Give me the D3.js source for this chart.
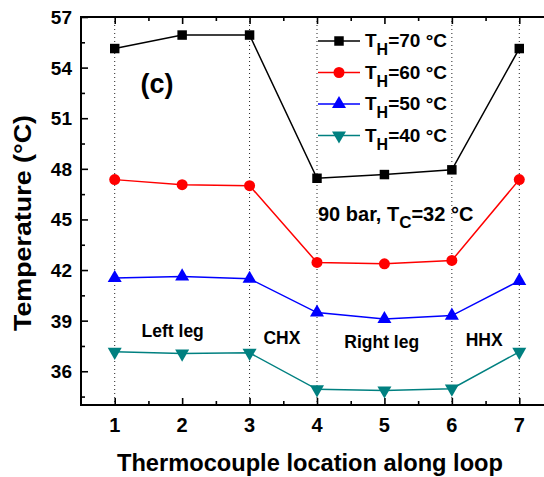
<!DOCTYPE html>
<html>
<head>
<meta charset="utf-8">
<script src="https://cdn.jsdelivr.net/npm/d3@7"></script>
<style>
  html, body { margin: 0; padding: 0; background: #fff; }
  svg { display: block; font-family: "Liberation Sans", Arial, sans-serif; font-weight: bold; }
</style>
</head>
<body>
<svg id="chart" width="544" height="477"></svg>
<script>
// Thermocouple positions around the loop
const locations = [1, 2, 3, 4, 5, 6, 7];
// Measured temperatures (°C) for each heater setting
const th70 = [55.13, 55.93, 55.93, 47.44, 47.66, 47.94, 55.13];
const th60 = [47.36, 47.06, 47.00, 42.45, 42.37, 42.57, 47.36];
const th50 = [41.53, 41.62, 41.48, 39.48, 39.10, 39.30, 41.36];
const th40 = [37.15, 37.05, 37.09, 34.93, 34.86, 34.97, 37.15];
const seriesNames = ["70", "60", "50", "40"];
const yTicks = [36, 39, 42, 45, 48, 51, 54, 57];
const xTicks = [1, 2, 3, 4, 5, 6, 7];
const sectionLines = [1, 3, 4, 6, 7];
const sections = [
  { name: "Left leg", at: 1.86, dy: 0 },
  { name: "CHX", at: 3.48, dy: 7 },
  { name: "Right leg", at: 4.96, dy: 11 },
  { name: "HHX", at: 6.48, dy: 9 }
];

const svg = d3.select("#chart");
const plotL = 81, plotR = 553, plotT = 17, plotB = 405;

const x = d3.scaleLinear().domain([0.5, 7.5]).range([plotL, plotR]);
const y = d3.scaleLinear().domain([34, 57]).range([plotB, plotT]);

const series = [
  { name: seriesNames[0], values: th70, color: "#000000", symbol: d3.symbolSquare, size: 90, rot: 0 },
  { name: seriesNames[1], values: th60, color: "#ff0000", symbol: d3.symbolCircle, size: 95, rot: 0 },
  { name: seriesNames[2], values: th50, color: "#0000ff", symbol: d3.symbolTriangle, size: 85, rot: 0 },
  { name: seriesNames[3], values: th40, color: "#008080", symbol: d3.symbolTriangle, size: 85, rot: 180 }
];

// Dotted section boundaries
svg.append("g").selectAll("line").data(sectionLines).join("line")
  .attr("x1", d => x(d)).attr("x2", d => x(d))
  .attr("y1", plotT).attr("y2", plotB)
  .attr("stroke", "#222").attr("stroke-width", 1)
  .attr("stroke-dasharray", "1,3");

// Axes: major ticks and minor ticks pointing inward
const yMinor = d3.range(34.5, 57, 1.5).filter(v => !yTicks.includes(v));
const xMinor = d3.range(1.5, 7.5, 1);

function tickGroup(axis, pos) {
  svg.append("g").attr("transform", pos)
    .call(axis)
    .call(g => g.select(".domain").remove())
    .call(g => g.selectAll("line").attr("stroke-width", 1.6));
}
tickGroup(d3.axisRight(y).tickValues(yTicks).tickSize(7).tickFormat(""), `translate(${plotL},0)`);
tickGroup(d3.axisRight(y).tickValues(yMinor).tickSize(4).tickFormat(""), `translate(${plotL},0)`);
tickGroup(d3.axisTop(x).tickValues(xTicks).tickSize(7).tickFormat(""), `translate(0,${plotB})`);
tickGroup(d3.axisTop(x).tickValues(xMinor).tickSize(4).tickFormat(""), `translate(0,${plotB})`);
tickGroup(d3.axisBottom(x).tickValues(xTicks).tickSize(7).tickFormat(""), `translate(0,${plotT})`);
tickGroup(d3.axisBottom(x).tickValues(xMinor).tickSize(4).tickFormat(""), `translate(0,${plotT})`);

// Frame lines
svg.append("line").attr("x1", plotL).attr("x2", plotL).attr("y1", plotT - 1).attr("y2", plotB + 1)
  .attr("stroke", "#000").attr("stroke-width", 2);
svg.append("line").attr("x1", plotL - 1).attr("x2", 544).attr("y1", plotB).attr("y2", plotB)
  .attr("stroke", "#000").attr("stroke-width", 2);
svg.append("line").attr("x1", plotL - 1).attr("x2", 544).attr("y1", plotT).attr("y2", plotT)
  .attr("stroke", "#000").attr("stroke-width", 2);

// Tick labels
svg.append("g").selectAll("text").data(yTicks).join("text")
  .attr("x", plotL - 9).attr("y", d => y(d) + 7)
  .attr("text-anchor", "end").attr("font-size", 19).text(d => d);
svg.append("g").selectAll("text").data(xTicks).join("text")
  .attr("x", d => x(d)).attr("y", plotB + 27)
  .attr("text-anchor", "middle").attr("font-size", 20).text(d => d);

// Axis titles
svg.append("text").attr("x", 310).attr("y", 471).attr("text-anchor", "middle")
  .attr("font-size", 23.5).attr("textLength", 386).attr("lengthAdjust", "spacingAndGlyphs")
  .text("Thermocouple location along loop");
svg.append("text").attr("transform", "translate(31,223) rotate(-90)")
  .attr("text-anchor", "middle").attr("font-size", 24)
  .attr("textLength", 216).attr("lengthAdjust", "spacingAndGlyphs")
  .text("Temperature (\u00B0C)");

// Data lines and markers
const line = d3.line().x((d, i) => x(locations[i])).y(d => y(d));
series.forEach(s => {
  svg.append("path").datum(s.values).attr("d", line)
    .attr("fill", "none").attr("stroke", s.color).attr("stroke-width", 1.5);
  svg.append("g").selectAll("path").data(s.values).join("path")
    .attr("d", d3.symbol().type(s.symbol).size(s.size))
    .attr("transform", (d, i) => `translate(${x(locations[i])},${y(d)}) rotate(${s.rot})`)
    .attr("fill", s.color);
});

// Legend
const leg = svg.append("g");
series.forEach((s, i) => {
  const ly = 41 + i * 31.5;
  leg.append("line").attr("x1", 318).attr("x2", 360).attr("y1", ly).attr("y2", ly)
    .attr("stroke", s.color).attr("stroke-width", 1.5);
  leg.append("path").attr("d", d3.symbol().type(s.symbol).size(s.size))
    .attr("transform", `translate(339,${ly}) rotate(${s.rot})`).attr("fill", s.color);
  const t = leg.append("text").attr("x", 365).attr("y", ly + 6).attr("font-size", 19);
  t.append("tspan").text("T");
  t.append("tspan").attr("dy", 8).attr("font-size", 16).text("H");
  t.append("tspan").attr("dy", -8).text("=" + s.name + " \u00B0C");
});

// Annotations
svg.append("text").attr("x", 157).attr("y", 93).attr("text-anchor", "middle")
  .attr("font-size", 27).text("(c)");
const cond = svg.append("text").attr("x", 318).attr("y", 221).attr("font-size", 20);
cond.append("tspan").text("90 bar, T");
cond.append("tspan").attr("dy", 7).attr("font-size", 17).text("C");
cond.append("tspan").attr("dy", -7).text("=32 \u00B0C");

svg.append("g").selectAll("text").data(sections).join("text")
  .attr("x", d => x(d.at)).attr("y", d => 337 + d.dy)
  .attr("text-anchor", "middle").attr("font-size", 17.5).text(d => d.name);
</script>
</body>
</html>
